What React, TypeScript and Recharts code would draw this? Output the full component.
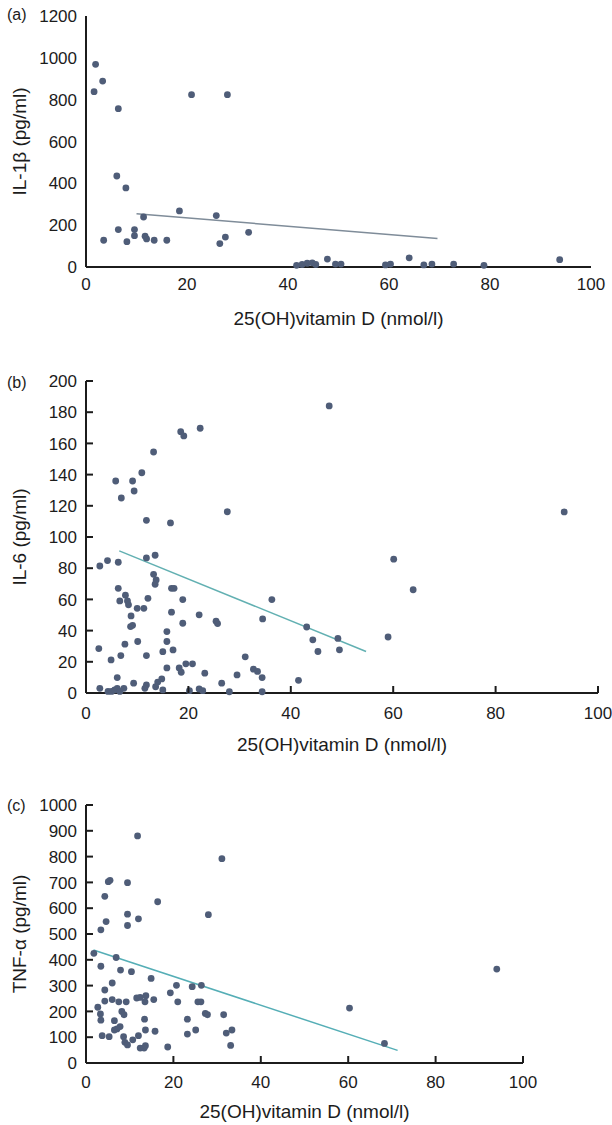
import React from 'react'
import { ScatterChart, Scatter, XAxis, YAxis, ReferenceLine } from 'recharts'

const FONT = '"Liberation Sans", Arial, Helvetica, sans-serif'
const INK = '#1c1c1c'
const DOT = '#4f5d78'

const vitDTicks = [0, 20, 40, 60, 80, 100]
const il1bTicks = [0, 200, 400, 600, 800, 1000, 1200]
const il6Ticks = [0, 20, 40, 60, 80, 100, 120, 140, 160, 180, 200]
const tnfTicks = [0, 100, 200, 300, 400, 500, 600, 700, 800, 900, 1000]

// (a) IL-1β
const il1bVitD = [
  1.6, 1.9, 3.3, 3.5, 6.1, 6.4, 6.4, 7.9, 8.1, 9.6, 9.6, 11.4, 11.7, 12.0, 13.5, 16.0, 18.5, 20.9, 25.8, 26.5,
  27.6, 28.0, 32.2, 41.7, 42.8, 43.8, 44.8, 45.5, 47.8, 49.4, 50.5, 59.3, 60.3, 64.0, 66.9, 68.5, 72.8, 78.8, 93.8,
]
const il1bValues = [
  838, 969, 889, 128, 435, 757, 179, 378, 121, 179, 150, 239, 147, 134, 128, 128, 268, 824, 246, 112,
  143, 824, 166, 8, 12, 18, 20, 12, 38, 14, 14, 10, 14, 44, 10, 14, 14, 8, 35,
]
const il1bFitVitD = [10, 69.6]
const il1bFitValues = [255, 136]

// (b) IL-6
const il6VitD = [
  13.2, 10.9, 5.8, 9.1, 9.4, 6.9, 11.8, 16.5, 27.6, 22.3, 18.5, 19.1, 11.8, 13.5, 2.7, 4.2, 6.3, 13.2, 13.7, 13.5,
  6.3, 16.7, 17.2, 7.7, 6.6, 8.1, 8.3, 12.1, 18.9, 36.3, 10.0, 11.3, 8.8, 16.7, 22.1, 8.7, 9.1, 18.9, 25.4, 25.7,
  34.5, 15.8, 15.8, 10.1, 7.6, 2.5, 15.0, 17.0, 6.8, 4.9, 11.8, 19.5, 20.8, 15.8, 18.2, 18.6, 31.1, 23.2, 29.5, 32.7,
  33.5, 34.4, 6.1, 9.3, 11.8, 11.5, 14.0, 14.8, 13.6, 15.0, 26.5, 2.7, 4.3, 5.0, 5.6, 6.1, 6.6, 7.4, 20.2, 22.1,
  22.8, 28.0, 34.4, 47.5, 93.4, 60.1, 63.9, 43.1, 44.3, 45.3, 49.2, 49.5, 59.0, 41.5,
]
const il6Values = [
  154.5, 141.2, 135.9, 135.9, 129.5, 125, 110.7, 109, 116.2, 169.7, 167.5, 164.8, 86.6, 88.3, 81.4, 84.9, 83.8, 76.1, 72.5, 69.7,
  67.1, 67.1, 67.1, 62.7, 59, 59, 56.5, 60.7, 59.9, 59.9, 54.3, 54.3, 49.4, 51.8, 50.1, 42.6, 43.4, 44.7, 46, 44.5,
  47.5, 39.4, 33, 33, 31.3, 28.5, 26.5, 27.6, 24, 21.2, 24, 18.7, 18.7, 16.1, 16.1, 13.3, 23.2, 12.7, 11.6, 15.3,
  13.8, 9.9, 9.9, 6.3, 5.2, 3, 7, 9, 4, 2, 6.3, 3, 1, 1, 2, 3, 1, 3, 1.5, 2.6,
  1.5, 0.8, 0.8, 184, 116.1, 85.8, 66.2, 42.3, 34.1, 26.6, 35, 27.7, 35.9, 8.1,
]
const il6FitVitD = [6.5, 54.7]
const il6FitValues = [91.1, 26.6]

// (c) TNF-α
const tnfVitD = [
  31.1, 5.5, 5.1, 9.5, 4.3, 16.4, 28.0, 9.5, 4.6, 9.5, 12.0, 3.4, 11.8, 1.8, 6.9, 3.4, 7.9, 10.4, 14.9, 20.7,
  24.3, 26.4, 6.0, 4.3, 19.3, 4.3, 6.0, 7.5, 9.2, 11.6, 12.4, 13.7, 13.5, 15.5, 21.0, 25.6, 26.3, 27.3, 27.8, 31.5,
  2.7, 3.3, 3.4, 6.5, 8.2, 8.7, 13.4, 23.2, 7.8, 7.1, 6.5, 3.7, 5.3, 8.6, 13.6, 15.8, 23.2, 25.1, 32.1, 33.4,
  33.1, 8.9, 9.5, 10.7, 12.0, 12.4, 13.3, 13.6, 18.7, 60.3, 94.0, 68.3,
]
const tnfValues = [
  792, 708, 703, 699, 646, 625, 575, 577, 548, 533, 559, 516, 880, 425, 409, 375, 360, 354, 328, 301,
  296, 301, 310, 283, 272, 240, 246, 237, 237, 252, 254, 261, 237, 246, 237, 237, 237, 192, 187, 187,
  216, 190, 166, 164, 200, 187, 170, 170, 141, 132, 128, 106, 102, 102, 128, 123, 112, 128, 116, 128,
  68, 80, 70, 90, 106, 58, 58, 67, 62, 213, 364, 76,
]
const tnfFitVitD = [1.7, 71.3]
const tnfFitValues = [438, 49]

const Dot = (p: any) => <circle cx={p.cx} cy={p.cy} r={3.4} fill={DOT} />

// ticks drawn by hand so the marks can point inwards
const xTick = (marks: boolean, gap: number) => (p: any) => (
  <g>
    {marks && <line x1={p.x} x2={p.x} y1={p.y} y2={p.y - 7} stroke={INK} strokeWidth={2} />}
    <text x={p.x} y={p.y + gap} dy="0.71em" textAnchor="middle" fill={INK} fontSize={17} fontFamily={FONT}>
      {p.payload.value}
    </text>
  </g>
)

const yTick = (marks: boolean) => (p: any) => (
  <g>
    {marks && <line x1={p.x} x2={p.x + 7} y1={p.y} y2={p.y} stroke={INK} strokeWidth={2} />}
    <text x={p.x - 9} y={p.y} dy="0.36em" textAnchor="end" fill={INK} fontSize={17} fontFamily={FONT}>
      {p.payload.value}
    </text>
  </g>
)

interface PanelProps {
  top: number
  height: number
  margin: { top: number; right: number; bottom: number; left: number }
  xHeight: number
  letter: string
  letterTop: number
  yLabel: string
  yTicks: number[]
  xs: number[]
  ys: number[]
  fitX: number[]
  fitY: number[]
  fitColor: string
  tickMarks: boolean
  xTickGap: number
  xLabelOffset: number
}

function Panel(props: PanelProps) {
  const data = props.xs.map((x, i) => ({ x, y: props.ys[i] }))
  const yMax = props.yTicks[props.yTicks.length - 1]
  const axisStyle = { stroke: INK, strokeWidth: 2 }
  return (
    <div style={{ position: 'absolute', left: 0, top: props.top, width: 612, height: props.height }}>
      <ScatterChart width={612} height={props.height} margin={props.margin}>
        <XAxis
          type="number"
          dataKey="x"
          domain={[0, 100]}
          ticks={vitDTicks}
          interval={0}
          height={props.xHeight}
          axisLine={axisStyle}
          tickLine={false}
          tickSize={0}
          tickMargin={0}
          tick={xTick(props.tickMarks, props.xTickGap)}
          label={{
            value: '25(OH)vitamin D (nmol/l)',
            position: 'insideTop',
            offset: props.xLabelOffset,
            fill: INK,
            fontSize: 19,
            fontFamily: FONT,
            style: { fontSize: 19, fontFamily: FONT },
          }}
        />
        <YAxis
          type="number"
          dataKey="y"
          domain={[0, yMax]}
          ticks={props.yTicks}
          interval={0}
          width={86}
          axisLine={axisStyle}
          tickLine={false}
          tickSize={0}
          tickMargin={0}
          tick={yTick(props.tickMarks)}
          label={{
            value: props.yLabel,
            angle: -90,
            position: 'insideLeft',
            offset: 19,
            fill: INK,
            fontSize: 19,
            fontFamily: FONT,
            style: { textAnchor: 'middle', fontSize: 19, fontFamily: FONT },
          }}
        />
        <Scatter data={data} shape={Dot} isAnimationActive={false} />
        <ReferenceLine
          segment={[
            { x: props.fitX[0], y: props.fitY[0] },
            { x: props.fitX[1], y: props.fitY[1] },
          ]}
          stroke={props.fitColor}
          strokeWidth={1.5}
          ifOverflow="visible"
        />
      </ScatterChart>
      <div
        style={{
          position: 'absolute',
          left: 7,
          top: props.letterTop - props.top,
          fontSize: 16,
          lineHeight: '16px',
          fontFamily: FONT,
          color: INK,
        }}
      >
        {props.letter}
      </div>
    </div>
  )
}

export default function App() {
  return (
    <div style={{ position: 'absolute', left: 0, top: 0, width: 612, height: 1125, background: '#fff' }}>
      <Panel
        top={0}
        height={330}
        margin={{ top: 16, right: 21, bottom: 0, left: 0 }}
        xHeight={63}
        letter="(a)"
        letterTop={7}
        yLabel="IL-1β (pg/ml)"
        yTicks={il1bTicks}
        xs={il1bVitD}
        ys={il1bValues}
        fitX={il1bFitVitD}
        fitY={il1bFitValues}
        fitColor="#7f8c99"
        tickMarks={false}
        xTickGap={10.5}
        xLabelOffset={45}
      />
      <Panel
        top={340}
        height={420}
        margin={{ top: 41, right: 14, bottom: 0, left: 0 }}
        xHeight={67}
        letter="(b)"
        letterTop={375}
        yLabel="IL-6 (pg/ml)"
        yTicks={il6Ticks}
        xs={il6VitD}
        ys={il6Values}
        fitX={il6FitVitD}
        fitY={il6FitValues}
        fitColor="#62b0b2"
        tickMarks={true}
        xTickGap={13.5}
        xLabelOffset={45}
      />
      <Panel
        top={760}
        height={365}
        margin={{ top: 45, right: 89, bottom: 0, left: 0 }}
        xHeight={62}
        letter="(c)"
        letterTop={798}
        yLabel="TNF-α (pg/ml)"
        yTicks={tnfTicks}
        xs={tnfVitD}
        ys={tnfValues}
        fitX={tnfFitVitD}
        fitY={tnfFitValues}
        fitColor="#55aeb6"
        tickMarks={true}
        xTickGap={12.7}
        xLabelOffset={42}
      />
    </div>
  )
}
